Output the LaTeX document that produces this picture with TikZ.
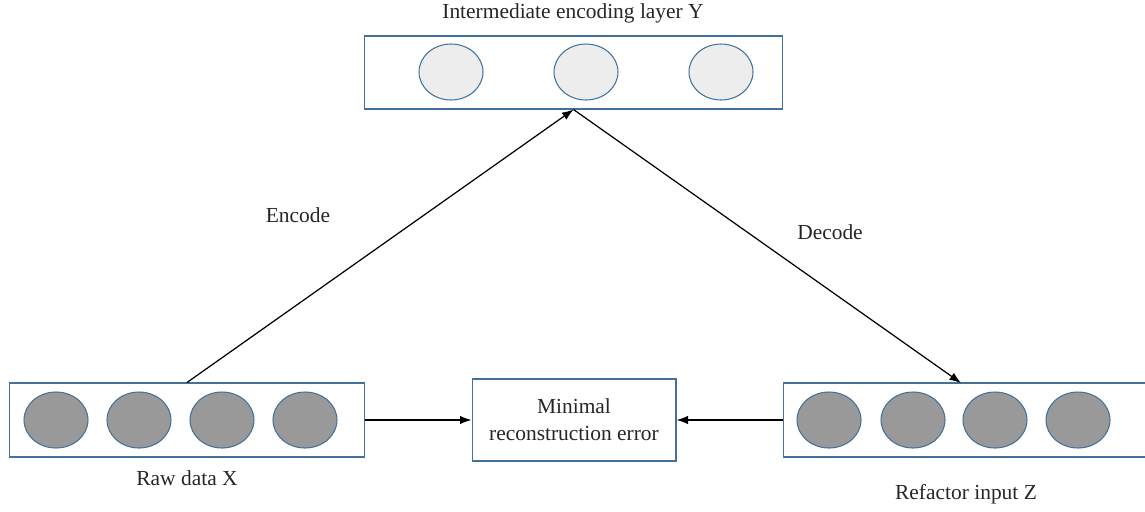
\documentclass[tikz,border=0pt]{standalone}
\usepackage{fontspec}
\setmainfont{Liberation Serif}
\usetikzlibrary{arrows.meta,shapes.geometric}
\definecolor{boxblue}{HTML}{41719C}
\definecolor{unitdark}{HTML}{999999}
\definecolor{unitlight}{HTML}{EDEDED}
\tikzset{
  layerbox/.style={draw=boxblue,line width=0.6pt,rectangle,inner sep=0pt},
  unit/.style={ellipse,draw=boxblue,line width=0.6pt,minimum width=1.28cm,minimum height=1.12cm,inner sep=0pt},
  lbl/.style={font=\fontsize{12.2}{15.3}\selectfont,text=black!85},
  flow/.style={-{Latex[length=2.3mm,width=1.7mm]},line width=0.7pt}
}

\begin{document}
\begin{tikzpicture}[x=0.02cm,y=-0.02cm]
  \useasboundingbox (0,0) rectangle (1145,511);
  % layer boxes
  \node[layerbox,minimum width=8.38cm,minimum height=1.46cm] (Y) at (573.5,72.5) {};
  \node[layerbox,minimum width=7.12cm,minimum height=1.48cm] (X) at (187,420) {};
  \node[layerbox,minimum width=7.4cm,minimum height=1.48cm] (Z) at (968,420) {};
  \node[layerbox,lbl,align=center,minimum width=4.08cm,minimum height=1.64cm] (err) at (574,420) {Minimal\\reconstruction error};
  % units
  \foreach \i/\x in {1/451,2/586,3/721}
    \node[unit,fill=unitlight] (y\i) at (\x,72) {};
  \foreach \i/\x in {1/56,2/139,3/222,4/305}
    \node[unit,fill=unitdark] (x\i) at (\x,420) {};
  \foreach \i/\x in {1/829,2/913,3/995,4/1078}
    \node[unit,fill=unitdark] (z\i) at (\x,420) {};
  % labels
  \node[lbl] (ytitle) at (573,13) {Intermediate encoding layer Y};
  \node[lbl] (xtitle) at (187,478) {Raw data X};
  \node[lbl] (ztitle) at (966,494) {Refactor input Z};
  \node[lbl] (enc) at (298,215) {Encode};
  \node[lbl] (dec) at (830,232) {Decode};
  % connectors
  \coordinate (zin) at (961,383);
  \draw[flow] (X.north) -- (Y.south);
  \draw[flow] (Y.south) -- (zin);
  \draw[flow] (X.east) -- (err.west);
  \draw[flow] (Z.west) -- (err.east);
\end{tikzpicture}
\end{document}
